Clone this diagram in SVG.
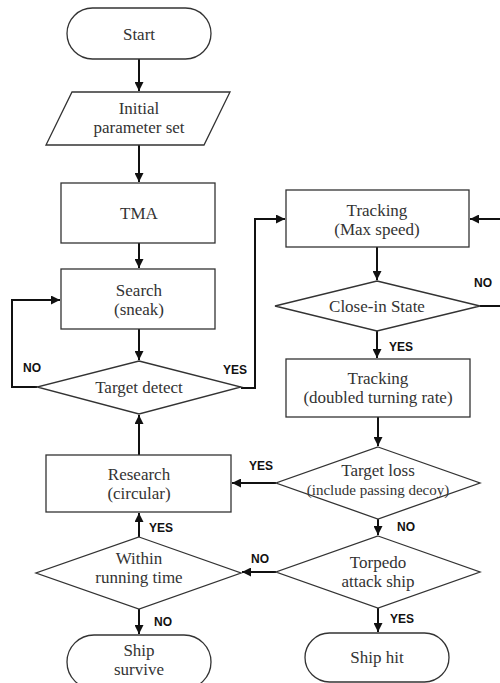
<svg xmlns="http://www.w3.org/2000/svg" width="500" height="683" viewBox="0 0 500 683">
<style>
.s{fill:#fff;stroke:#333;stroke-width:1.3}
.t{font-family:"Liberation Serif","Times New Roman",serif;font-size:17px;fill:#333;text-anchor:middle}
.ts{font-size:15px}
.c{fill:none;stroke:#111;stroke-width:2}
.l{font-family:"Liberation Sans",Arial,sans-serif;font-size:12px;font-weight:bold;fill:#111}
</style>
<defs>
<marker id="a" viewBox="0 0 10 10" refX="10" refY="5" markerWidth="4.5" markerHeight="4.5" orient="auto" markerUnits="strokeWidth">
<path d="M0,0 L10,5 L0,10 z" fill="#111"/>
</marker>
</defs>
<rect width="500" height="683" fill="#fff"/>
<g id="connectors">
<path class="c" d="M139,59 V91" marker-end="url(#a)"/>
<path class="c" d="M139,145 V182" marker-end="url(#a)"/>
<path class="c" d="M139,243 V268" marker-end="url(#a)"/>
<path class="c" d="M139,329 V360" marker-end="url(#a)"/>
<path class="c" d="M37,387 H12 V300 H60" marker-end="url(#a)"/>
<path class="c" d="M241,388 H255 V219 H285" marker-end="url(#a)"/>
<path class="c" d="M377,247 V280" marker-end="url(#a)"/>
<path class="c" d="M480,306 H501"/>
<path class="c" d="M501,219 H470" marker-end="url(#a)"/>
<path class="c" d="M377,331 V358" marker-end="url(#a)"/>
<path class="c" d="M378,417 V446" marker-end="url(#a)"/>
<path class="c" d="M276,483 H232" marker-end="url(#a)"/>
<path class="c" d="M378,519 V535" marker-end="url(#a)"/>
<path class="c" d="M276,572 H242" marker-end="url(#a)"/>
<path class="c" d="M378,608 V632" marker-end="url(#a)"/>
<path class="c" d="M139,455 V415" marker-end="url(#a)"/>
<path class="c" d="M139,537 V513" marker-end="url(#a)"/>
<path class="c" d="M139,609 V634" marker-end="url(#a)"/>
<text class="l" x="23" y="372">NO</text>
<text class="l" x="223" y="374">YES</text>
<text class="l" x="474" y="287">NO</text>
<text class="l" x="389" y="351">YES</text>
<text class="l" x="249" y="470">YES</text>
<text class="l" x="397" y="531">NO</text>
<text class="l" x="251" y="563">NO</text>
<text class="l" x="390" y="623">YES</text>
<text class="l" x="149" y="532">YES</text>
<text class="l" x="154" y="626">NO</text>
</g>
<g id="start">
<rect class="s" x="67" y="8" width="144" height="51" rx="25.5"/>
<text class="t" x="139" y="40">Start</text>
</g>
<g id="initial">
<polygon class="s" points="72,92 230,92 204,145 46,145"/>
<text class="t" x="139" y="114">Initial</text>
<text class="t" x="139" y="133">parameter  set</text>
</g>
<g id="tma">
<rect class="s" x="61" y="183" width="154" height="60"/>
<text class="t" x="139" y="219">TMA</text>
</g>
<g id="search">
<rect class="s" x="61" y="269" width="154" height="60"/>
<text class="t" x="139" y="296">Search</text>
<text class="t" x="139" y="315">(sneak)</text>
</g>
<g id="target-detect">
<polygon class="s" points="139,361 241,387 139,414 37,387"/>
<text class="t" x="139" y="393">Target  detect</text>
</g>
<g id="research">
<rect class="s" x="46" y="455" width="185" height="57"/>
<text class="t" x="139" y="480">Research</text>
<text class="t" x="139" y="499">(circular)</text>
</g>
<g id="within">
<polygon class="s" points="139,537 241,573 139,609 36,573"/>
<text class="t" x="139" y="564">Within</text>
<text class="t" x="139" y="583">running  time</text>
</g>
<g id="ship-survive">
<rect class="s" x="67" y="635" width="144" height="54" rx="27"/>
<text class="t" x="139" y="656">Ship</text>
<text class="t" x="139" y="675">survive</text>
</g>
<g id="tracking-max">
<rect class="s" x="286" y="190" width="183" height="57"/>
<text class="t" x="377" y="216">Tracking</text>
<text class="t" x="377" y="235">(Max speed)</text>
</g>
<g id="close-in">
<polygon class="s" points="377,281 480,306 377,331 275,306"/>
<text class="t" x="377" y="312">Close-in State</text>
</g>
<g id="tracking-doubled">
<rect class="s" x="286" y="359" width="184" height="58"/>
<text class="t" x="378" y="384">Tracking</text>
<text class="t" x="378" y="403">(doubled turning rate)</text>
</g>
<g id="target-loss">
<polygon class="s" points="378,447 480,483 378,519 276,483"/>
<text class="t" x="378" y="476">Target  loss</text>
<text class="t ts" x="378" y="495">(include passing decoy)</text>
</g>
<g id="torpedo">
<polygon class="s" points="378,536 480,572 378,608 276,572"/>
<text class="t" x="378" y="568">Torpedo</text>
<text class="t" x="378" y="587">attack  ship</text>
</g>
<g id="ship-hit">
<rect class="s" x="305" y="633" width="144" height="49" rx="24.5"/>
<text class="t" x="377" y="663">Ship hit</text>
</g>
</svg>
